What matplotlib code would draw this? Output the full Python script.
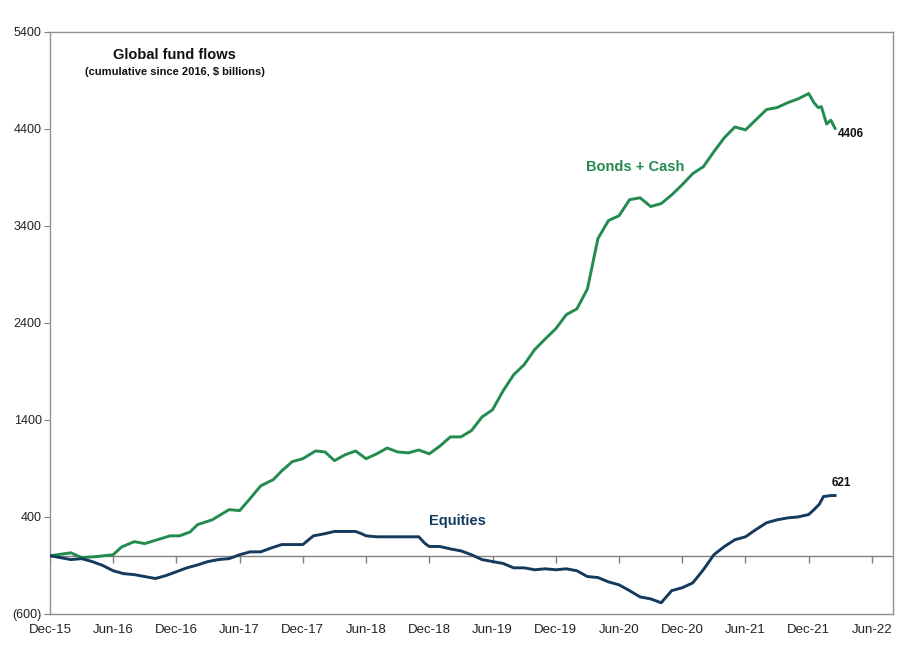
import matplotlib
matplotlib.use("Agg")
import matplotlib.pyplot as plt
from matplotlib.lines import TICKDOWN

plt.rcParams['font.family'] = ['Liberation Sans', 'DejaVu Sans']

# months since Dec-2015
bonds_m = [0, 2, 3, 4.3, 6, 6.8, 8, 9, 10.5, 11.4, 12.3, 13.3, 14, 15.4, 17, 18, 19, 20,
           21.2, 22, 23, 24, 25.2, 26.1, 27, 28, 29, 30, 31, 32, 33, 34, 35, 36, 37, 38,
           39, 40, 41, 42, 43, 44, 45, 46, 47, 48, 49, 50, 51, 52, 53, 54, 55, 56, 57,
           58, 59, 60, 61, 62, 63, 64, 65, 66, 67, 68, 69, 70, 71, 72, 72.5, 72.9, 73.2,
           73.7, 74.1, 74.5]
bonds = [0, 30, -20, -10, 10, 90, 145, 125, 175, 205, 205, 245, 320, 370, 475, 465, 590,
         720, 785, 875, 970, 1000, 1080, 1070, 980, 1040, 1080, 1000, 1050, 1110, 1070,
         1060, 1090, 1050, 1130, 1225, 1225, 1290, 1430, 1505, 1700, 1865, 1970, 2125,
         2235, 2340, 2485, 2545, 2750, 3270, 3455, 3505, 3670, 3690, 3600, 3630, 3720,
         3825, 3940, 4010, 4165, 4310, 4420, 4390, 4495, 4600, 4620, 4670, 4710, 4765,
         4670, 4620, 4630, 4450, 4490, 4406]

eq_m = [0, 1, 2, 3, 4, 5, 6, 7, 8, 9, 10, 11, 12, 13, 14, 15, 16, 17, 18, 19, 20, 21,
        22, 23, 24, 25, 26, 27, 28, 29, 29.5, 30, 31, 32.5, 34, 35, 35.6, 36, 37, 38, 39,
        40, 41, 42, 43, 44, 45, 46, 47, 48, 49, 50, 51, 52, 53, 54, 55, 56, 57, 58, 59,
        60, 61, 62, 63, 64, 65, 66, 67, 68, 69, 70, 71, 72, 72.5, 73, 73.4, 74.1, 74.5]
equities = [0, -20, -40, -30, -60, -100, -155, -185, -195, -215, -235, -205, -165, -125,
            -95, -60, -40, -30, 10, 40, 40, 80, 115, 115, 115, 205, 225, 250, 250, 250,
            230, 205, 195, 195, 195, 195, 125, 95, 95, 70, 50, 10, -40, -60, -80, -125,
            -125, -145, -135, -145, -135, -155, -215, -225, -270, -300, -360, -425, -445,
            -485, -360, -330, -280, -145, 10, 95, 165, 195, 270, 340, 370, 390, 400, 425,
            475, 530, 610, 620, 621]

tick_labels = ['Dec-15', 'Jun-16', 'Dec-16', 'Jun-17', 'Dec-17', 'Jun-18', 'Dec-18',
               'Jun-19', 'Dec-19', 'Jun-20', 'Dec-20', 'Jun-21', 'Dec-21', 'Jun-22']
tick_pos = [6 * i for i in range(len(tick_labels))]
y_ticks = [-600, 400, 1400, 2400, 3400, 4400, 5400]
y_labels = ['(600)', '400', '1400', '2400', '3400', '4400', '5400']

green = '#238b4f'
navy = '#143a5e'

fig = plt.figure(figsize=(9.08, 6.58), dpi=100)
ax = fig.add_axes([0.055, 0.067, 0.9285, 0.8845])

ax.axhline(0, color='#808080', lw=1.0, zorder=1)
ax.plot(tick_pos, [0] * len(tick_pos), ls='none', marker=TICKDOWN, ms=5,
        mec='#808080', mew=1.0, zorder=1)

ax.plot(bonds_m, bonds, color=green, lw=2.1, solid_joinstyle='round', zorder=3)
ax.plot(eq_m, equities, color=navy, lw=2.1, solid_joinstyle='round', zorder=3)

ax.set_xlim(0, 80)
ax.set_ylim(-600, 5400)
ax.set_yticks(y_ticks)
ax.set_yticklabels(y_labels)
ax.set_xticks(tick_pos)
ax.set_xticklabels(tick_labels)
ax.tick_params(axis='x', length=0, pad=7, labelsize=9.5, labelcolor='#222222')
ax.tick_params(axis='y', length=4, color='#808080', pad=2, labelsize=9,
               labelcolor='#222222')
for s in ax.spines.values():
    s.set_color('#909090')
    s.set_linewidth(1.0)

ax.text(0.148, 0.9605, 'Global fund flows', transform=ax.transAxes, ha='center',
        va='center', fontsize=10.5, fontweight='bold', color='#111111')
ax.text(0.148, 0.931, '(cumulative since 2016, $ billions)', transform=ax.transAxes,
        ha='center', va='center', fontsize=8, fontweight='bold', color='#111111')
ax.text(55.5, 4010, 'Bonds + Cash', color=green, fontsize=10.5, fontweight='bold',
        ha='center', va='center')
ax.text(38.7, 360, 'Equities', color=navy, fontsize=10.5, fontweight='bold',
        ha='center', va='center')
ax.text(bonds_m[-1] + 0.3, bonds[-1], f'{bonds[-1]}', fontsize=8.5, fontweight='bold',
        ha='left', va='top', color='#111111')
ax.text(eq_m[-1] - 0.3, equities[-1] + 70, f'{equities[-1]}', fontsize=8.5,
        fontweight='bold', ha='left', va='bottom', color='#111111')

fig.savefig('out.png', dpi=100)
